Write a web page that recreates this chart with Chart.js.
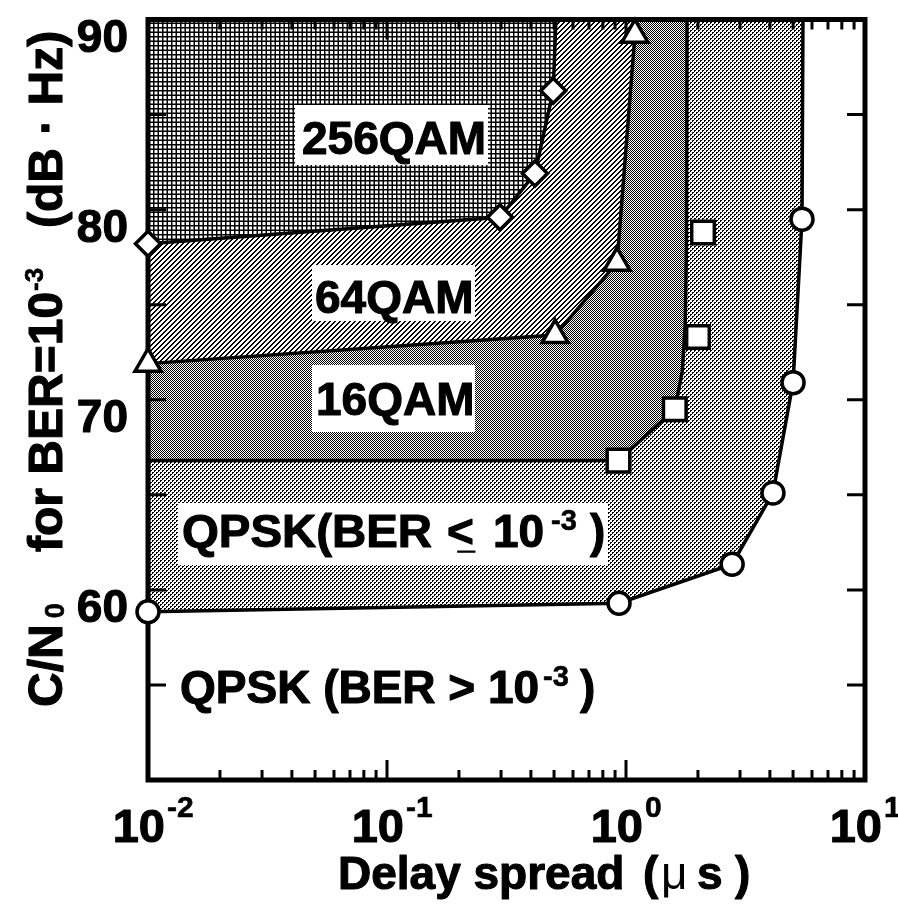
<!DOCTYPE html>
<html>
<head>
<meta charset="utf-8">
<script src="https://cdn.jsdelivr.net/npm/chart.js@4.4.1/dist/chart.umd.min.js"></script>
<style>
  html, body { margin: 0; padding: 0; background: #fff; }
  canvas { display: block; }
</style>
</head>
<body>
<canvas id="c" width="898" height="904"></canvas>
<script>
// Required C/N0 (dB·Hz) for BER = 1e-3 versus delay spread (µs), per modulation
const qpskDelay   = [0.01, 0.935, 2.78, 4.12, 5.0, 5.45];
const qpskCN0     = [58.85, 59.3, 61.35, 65.1, 70.9, 79.5];
const qam16Delay  = [0.93, 1.60, 2.0, 2.10];
const qam16CN0    = [66.8, 69.5, 73.3, 78.8];
const qam64Delay  = [0.01, 0.505, 0.917, 1.09];
const qam64CN0    = [71.9, 73.4, 77.2, 89.2];
const qam256Delay = [0.01, 0.297, 0.416, 0.496];
const qam256CN0   = [78.2, 79.6, 81.9, 86.25];

// Region boundaries: measured points plus the run of each edge up to the top of the plot
const qpskEdgeDelay   = [...qpskDelay, 5.5];
const qpskEdgeCN0     = [...qpskCN0, 90];
const qam16EdgeDelay  = [0.01, ...qam16Delay.slice(0, 2), 1.72, 1.77, 1.79, 1.80];
const qam16EdgeCN0    = [66.8, ...qam16CN0.slice(0, 2), 71.5, 74.0, 78.0, 90];
const qam64EdgeDelay  = [...qam64Delay, 1.10];
const qam64EdgeCN0    = [...qam64CN0, 90];
const qam256EdgeDelay = [...qam256Delay, 0.509];
const qam256EdgeCN0   = [...qam256CN0, 90];

// Axis ticks
const yTickValues  = [55, 60, 65, 70, 75, 80, 85];
const yLabelValues = [60, 70, 80, 90];
const xDecades     = [0.01, 0.1, 1, 10];
const xExponents   = ['-2', '-1', '0', '1'];

const X_MIN = 0.01, X_MAX = 10, Y_MIN = 50, Y_MAX = 90;
const FONT = '"Liberation Sans", Arial, Helvetica, sans-serif';

const canvas = document.getElementById('c');
const baseCtx = canvas.getContext('2d');

// Black-on-white tiles used to shade each modulation region
function tilePattern(size, paint) {
  const t = document.createElement('canvas');
  t.width = size; t.height = size;
  const g = t.getContext('2d');
  g.fillStyle = '#fff';
  g.fillRect(0, 0, size, size);
  g.fillStyle = '#000';
  paint(g, size);
  return baseCtx.createPattern(t, 'repeat');
}
const pixels = ink => (g, n) => {
  for (let y = 0; y < n; y++)
    for (let x = 0; x < n; x++)
      if (ink(x, y)) g.fillRect(x, y, 1, 1);
};
// fine square grid
const fill256 = tilePattern(9, g => {
  g.fillRect(0, 0, 9, 1.5); g.fillRect(0, 4.5, 9, 1.5);
  g.fillRect(0, 0, 1.5, 9); g.fillRect(4.5, 0, 1.5, 9);
});
// diagonal hatch
const fill64 = tilePattern(5, pixels((x, y) => (x + y) % 5 < 2));
// dense grey
const fill16 = tilePattern(2, pixels((x, y) => (x + y) % 2 === 0));
// open dots
const fillQPSK = tilePattern(4, pixels((x, y) =>
  ((x < 2 && y < 2) || (x >= 2 && y >= 2)) && !(x % 2 === 1 && y % 2 === 1)));

const pts = (xs, ys) => xs.map((x, i) => ({ x, y: ys[i] }));

const markerBase = {
  showLine: false, clip: false,
  borderColor: '#000', backgroundColor: '#fff',
  pointBackgroundColor: '#fff', pointBorderColor: '#000', pointBorderWidth: 3.5
};
const edgeBase = {
  showLine: true, fill: 'end', clip: false,
  borderColor: '#000', borderWidth: 3.5, pointRadius: 0, tension: 0
};

// Text helper: heavy sans, optional horizontal stretch
function put(ctx, s, x, y, size, opt = {}) {
  const sx = opt.sx ?? 1.0;
  const weight = opt.weight ?? 'bold';
  ctx.save();
  ctx.font = `${weight} ${size}px ${FONT}`;
  ctx.fillStyle = '#000';
  ctx.strokeStyle = '#000';
  ctx.lineJoin = 'round';
  ctx.textBaseline = 'alphabetic';
  ctx.textAlign = 'left';
  const w = ctx.measureText(s).width * sx;
  const x0 = opt.align === 'right' ? x - w : opt.align === 'center' ? x - w / 2 : x;
  ctx.translate(x0, y);
  ctx.scale(sx, 1);
  ctx.fillText(s, 0, 0);
  if (weight === 'bold') {
    ctx.lineWidth = opt.heavy ?? 1.1;
    ctx.strokeText(s, 0, 0);
  }
  ctx.restore();
  return w;
}

const regionLabels = [
  { text: '256QAM', box: [295, 105, 488, 165], x: 302, y: 154 },
  { text: '64QAM',  box: [312, 265, 475, 321], x: 315, y: 313 },
  { text: '16QAM',  box: [312, 365, 475, 432], x: 316, y: 415 }
];

const decorations = {
  id: 'decorations',
  beforeDatasetsDraw(chart) {
    const { ctx, chartArea: a, scales: { x, y } } = chart;
    ctx.save();
    // white label boxes inside the shaded regions
    for (const r of regionLabels) {
      const [x1, y1, x2, y2] = r.box;
      ctx.fillStyle = '#fff';
      ctx.fillRect(x1, y1, x2 - x1, y2 - y1);
      put(ctx, r.text, r.x, r.y, 46);
    }
    ctx.fillStyle = '#fff';
    ctx.fillRect(178, 503, 430, 62);
    put(ctx, 'QPSK(BER', 182, 547, 46, { sx: 1.03 });
    put(ctx, '<', 447, 547, 46);
    put(ctx, '_', 458, 549, 30);
    put(ctx, '10', 493, 547, 46);
    put(ctx, '-3', 551, 530, 29, { heavy: 0.6 });
    put(ctx, ')', 590, 547, 46);

    put(ctx, 'QPSK (BER > 10', 180, 703, 46);
    put(ctx, '-3', 543, 686, 29, { heavy: 0.6 });
    put(ctx, ')', 580, 703, 46);

    // frame
    ctx.strokeStyle = '#000';
    ctx.lineWidth = 5;
    ctx.strokeRect(a.left, a.top, a.right - a.left, a.bottom - a.top);

    // inward ticks
    ctx.lineWidth = 3;
    ctx.beginPath();
    for (const v of yTickValues) {
      const py = y.getPixelForValue(v);
      ctx.moveTo(a.left, py);  ctx.lineTo(a.left + 18, py);
      ctx.moveTo(a.right, py); ctx.lineTo(a.right - 18, py);
    }
    for (const d of xDecades.slice(0, 3)) {
      for (let m = 1; m <= 9; m++) {
        const v = d * m;
        if (v <= X_MIN * 1.0001) continue;
        const px = x.getPixelForValue(v);
        const len = m === 1 ? 20 : 10;
        ctx.moveTo(px, a.bottom); ctx.lineTo(px, a.bottom - len);
        ctx.moveTo(px, a.top);    ctx.lineTo(px, a.top + len);
      }
    }
    ctx.stroke();
    ctx.restore();
  },
  afterDraw(chart) {
    const { ctx, scales: { x, y } } = chart;
    ctx.save();
    // y tick labels
    for (const v of yLabelValues) {
      put(ctx, String(v), 128, y.getPixelForValue(v) + 32, 46, { align: 'right' });
    }
    // x tick labels, powers of ten
    xDecades.forEach((d, i) => {
      const px = x.getPixelForValue(d);
      put(ctx, '10', px + 17, 842, 47, { align: 'right' });
      put(ctx, xExponents[i], px + 19, 817, 30, { heavy: 0.6 });
    });
    // x title
    put(ctx, 'Delay spread', 338, 889, 46);
    put(ctx, '(', 643, 889, 46);
    put(ctx, '\u03bc', 661, 889, 46, { weight: 'normal' });
    put(ctx, 's', 697, 889, 46);
    put(ctx, ')', 735, 889, 46);

    // y title, rotated
    ctx.save();
    ctx.translate(62, 707);
    ctx.rotate(-Math.PI / 2);
    const w1 = put(ctx, 'C/N', 0, 0, 48);
    put(ctx, '0', w1 + 6, 2, 27, { heavy: 0.6 });
    const w2 = put(ctx, 'for BER=10', 155, 0, 48);
    put(ctx, '-3', 155 + w2 + 1, -19, 26, { heavy: 0.6 });
    put(ctx, '(dB \u00b7 Hz)', 479, 0, 48);
    ctx.restore();
    ctx.restore();
  }
};

new Chart(canvas, {
  type: 'line',
  data: {
    datasets: [
      { ...markerBase, label: '256QAM', data: pts(qam256Delay, qam256CN0), pointStyle: 'rectRot', pointRadius: 12.5 },
      { ...markerBase, label: '64QAM',  data: pts(qam64Delay, qam64CN0),   pointStyle: 'triangle', pointRadius: 15 },
      { ...markerBase, label: '16QAM',  data: pts(qam16Delay, qam16CN0),   pointStyle: 'rect', pointRadius: 16 },
      { ...markerBase, label: 'QPSK',   data: pts(qpskDelay, qpskCN0),     pointStyle: 'circle', pointRadius: 11 },
      { ...edgeBase, label: '256QAM region', data: pts(qam256EdgeDelay, qam256EdgeCN0), backgroundColor: fill256 },
      { ...edgeBase, label: '64QAM region',  data: pts(qam64EdgeDelay, qam64EdgeCN0),   backgroundColor: fill64 },
      { ...edgeBase, label: '16QAM region',  data: pts(qam16EdgeDelay, qam16EdgeCN0),   backgroundColor: fill16 },
      { ...edgeBase, label: 'QPSK region',   data: pts(qpskEdgeDelay, qpskEdgeCN0),     backgroundColor: fillQPSK }
    ]
  },
  options: {
    responsive: false,
    animation: false,
    devicePixelRatio: 1,
    events: [],
    layout: { padding: { left: 148, right: 33, top: 12, bottom: 124 } },
    scales: {
      x: { type: 'logarithmic', min: X_MIN, max: X_MAX, display: false },
      y: { type: 'linear', min: Y_MIN, max: Y_MAX, display: false }
    },
    plugins: {
      legend: { display: false },
      tooltip: { enabled: false },
      filler: { drawTime: 'beforeDatasetsDraw', propagate: false }
    }
  },
  plugins: [decorations]
});
</script>
</body>
</html>
